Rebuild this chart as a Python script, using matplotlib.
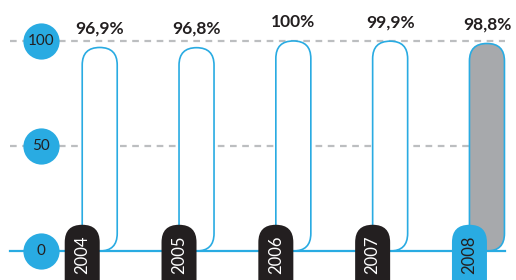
import matplotlib.pyplot as plt
import matplotlib.transforms as mtransforms
from matplotlib.patches import FancyBboxPatch

years = ['2004', '2005', '2006', '2007', '2008']
values = [96.9, 96.8, 100.0, 99.9, 98.8]
labels = ['96,9%', '96,8%', '100%', '99,9%', '98,8%']
yticks = [0, 50, 100]

BLUE = '#29abe2'
DARK = '#231f20'
GREY = '#a7a9ac'
DASH = '#bcbec0'

plt.rcParams['font.family'] = ['Lato', 'DejaVu Sans']

W, H = 516, 280
fig = plt.figure(figsize=(W / 100, H / 100), dpi=100)
ax = fig.add_axes([0, 0, 1, 1])
ax.axis('off')
xlim = (-1.03, 4.30)
ylim = (-13.8, 119.5)
ax.set_xlim(*xlim)
ax.set_ylim(*ylim)

# data units per pixel -> aspect for rounded boxes
xpp = (xlim[1] - xlim[0]) / W
ypp = (ylim[1] - ylim[0]) / H
aspect = ypp / xpp
bw = 35 * xpp

# grid + baseline
for t in yticks[1:]:
    ax.axhline(t, xmin=10 / W, xmax=505 / W, color=DASH, lw=1.6,
               dashes=(3, 2.5), zorder=1)
ax.axhline(0, xmin=10 / W, xmax=505 / W, color=BLUE, lw=1.6, zorder=4)

# tick circles
trans = mtransforms.blended_transform_factory(ax.transAxes, ax.transData)
cx = 41 / W
ax.scatter([cx] * len(yticks), yticks, s=680, color=BLUE, transform=trans,
           zorder=5, linewidths=0)
for t in yticks:
    ax.text(cx, t, str(t), transform=trans, ha='center', va='center',
            fontsize=11, color=DARK, zorder=6)

for i, (yr, v, lab) in enumerate(zip(years, values, labels)):
    last = i == len(years) - 1
    bar = FancyBboxPatch((i - bw / 2, 0), bw, v,
                         boxstyle=f'round,pad=0,rounding_size={bw / 2}',
                         mutation_aspect=aspect,
                         facecolor=GREY if last else 'white',
                         edgecolor=BLUE, lw=1.2, zorder=3)
    ax.add_patch(bar)
    ax.text(i, v + 9, lab, ha='center', va='center', fontsize=12.5,
            fontweight='bold', color=DARK, zorder=6)
    # year pill
    px = i - bw / 2
    pill = FancyBboxPatch((px - bw / 2, -25), bw, 37.5,
                          boxstyle=f'round,pad=0,rounding_size={bw / 2}',
                          mutation_aspect=aspect,
                          facecolor=BLUE if last else DARK,
                          edgecolor='none', zorder=7)
    ax.add_patch(pill)
    ax.text(px, -1.8, yr, rotation=90, ha='center', va='center',
            fontsize=12, color=DARK if last else 'white', zorder=8)

fig.savefig('out.png', dpi=100)
